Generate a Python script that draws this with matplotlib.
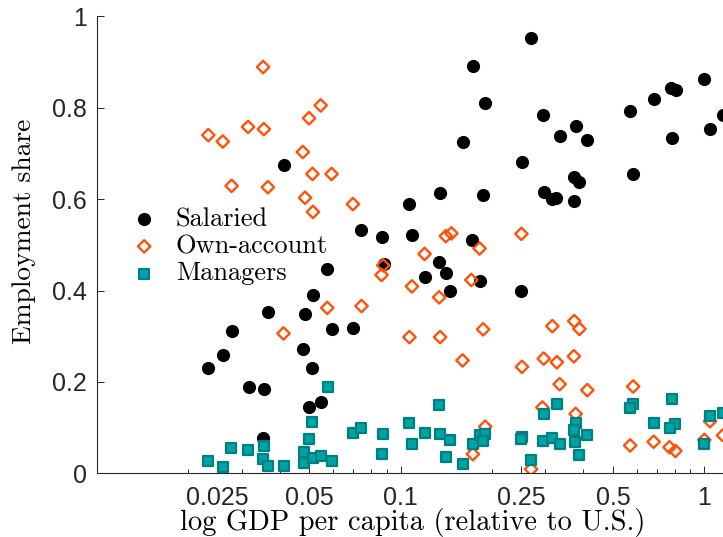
import matplotlib
matplotlib.use("Agg")
import matplotlib.pyplot as plt
from matplotlib.ticker import FixedLocator, FixedFormatter, LogLocator, NullFormatter

# GDP per capita relative to U.S. (log axis) and employment shares
sal_x = [0.0412, 0.269, 0.173, 0.190, 0.294, 0.160, 0.252, 0.107, 0.135, 0.187,
         0.296, 0.0739, 0.0871, 0.109, 0.172, 0.334, 0.378, 0.412, 0.570, 0.682,
         0.775, 0.805, 1.0, 1.149, 1.046, 0.783, 0.583, 0.325, 0.315, 0.371,
         0.388, 0.373, 0.120, 0.141, 0.146, 0.183, 0.250, 0.0881, 0.134, 0.0574,
         0.0515, 0.0366, 0.0485, 0.0278, 0.0593, 0.0699, 0.0260, 0.0233, 0.0477, 0.0513,
         0.0316, 0.0356, 0.0500, 0.0547, 0.0352]
sal_y = [0.675, 0.953, 0.891, 0.810, 0.783, 0.724, 0.681, 0.589, 0.613, 0.610,
         0.616, 0.532, 0.518, 0.521, 0.511, 0.737, 0.760, 0.730, 0.793, 0.820,
         0.843, 0.839, 0.862, 0.783, 0.754, 0.734, 0.656, 0.602, 0.600, 0.648,
         0.637, 0.596, 0.429, 0.439, 0.399, 0.421, 0.398, 0.457, 0.463, 0.447,
         0.390, 0.353, 0.348, 0.312, 0.315, 0.319, 0.258, 0.231, 0.271, 0.230,
         0.188, 0.185, 0.146, 0.155, 0.077]

own_x = [0.0353, 0.0546, 0.0500, 0.0315, 0.0355, 0.0233, 0.0260, 0.0477, 0.0513, 0.0593,
         0.0278, 0.0366, 0.0485, 0.0515, 0.0697, 0.141, 0.147, 0.250, 0.120, 0.182,
         0.0877, 0.0866, 0.109, 0.134, 0.171, 0.0744, 0.107, 0.135, 0.187, 0.160,
         0.251, 0.296, 0.316, 0.373, 0.388, 0.327, 0.372, 0.334, 0.412, 0.583,
         0.293, 0.377, 0.190, 0.173, 0.269, 0.570, 0.681, 0.768, 0.803, 1.0,
         1.044, 1.152, 0.0574, 0.0412]
own_y = [0.889, 0.805, 0.777, 0.758, 0.753, 0.740, 0.726, 0.703, 0.655, 0.655,
         0.629, 0.626, 0.603, 0.572, 0.589, 0.519, 0.525, 0.524, 0.480, 0.492,
         0.455, 0.434, 0.409, 0.385, 0.423, 0.366, 0.298, 0.298, 0.315, 0.247,
         0.233, 0.251, 0.322, 0.333, 0.316, 0.243, 0.256, 0.195, 0.182, 0.190,
         0.144, 0.130, 0.102, 0.042, 0.009, 0.061, 0.069, 0.057, 0.049, 0.073,
         0.114, 0.083, 0.362, 0.306]

man_x = [0.0578, 0.0513, 0.0501, 0.0699, 0.0739, 0.0356, 0.0277, 0.0315, 0.0233, 0.0260,
         0.0352, 0.0367, 0.0413, 0.0482, 0.0480, 0.0517, 0.0549, 0.0596, 0.0877, 0.0868,
         0.107, 0.109, 0.120, 0.134, 0.135, 0.146, 0.141, 0.160, 0.173, 0.182,
         0.190, 0.187, 0.251, 0.250, 0.269, 0.296, 0.294, 0.327, 0.316, 0.334,
         0.378, 0.371, 0.374, 0.412, 0.386, 0.583, 0.570, 0.682, 0.783, 0.801,
         0.771, 1.046, 1.152, 0.998]
man_y = [0.188, 0.112, 0.074, 0.089, 0.099, 0.060, 0.055, 0.050, 0.026, 0.013,
         0.031, 0.016, 0.016, 0.046, 0.023, 0.034, 0.037, 0.026, 0.086, 0.042,
         0.111, 0.065, 0.089, 0.149, 0.085, 0.073, 0.035, 0.021, 0.064, 0.084,
         0.087, 0.071, 0.080, 0.074, 0.029, 0.130, 0.071, 0.152, 0.077, 0.064,
         0.109, 0.095, 0.069, 0.084, 0.041, 0.152, 0.142, 0.109, 0.162, 0.107,
         0.099, 0.125, 0.131, 0.064]

x_ticks = [0.025, 0.05, 0.1, 0.25, 0.5, 1]
x_ticklabels = ["0.025", "0.05", "0.1", "0.25", "0.5", "1"]
y_ticks = [0, 0.2, 0.4, 0.6, 0.8, 1]
y_ticklabels = ["0", "0.2", "0.4", "0.6", "0.8", "1"]

SERIF = "cmr10"
SANS = "Liberation Sans"


def main():
    fig = plt.figure(figsize=(7.23, 5.37), dpi=100)
    x_right = 1.2
    # left edge and bottom in pixels, axis scale ~304 px per decade
    left_px, bottom_px, top_px = 96.7, 473.3, 16.3
    right_px = 704.3 + 304.3 * 0.0792  # log10(1.2)
    ax_w = right_px - left_px
    ax = fig.add_axes([left_px / 723, (537 - bottom_px) / 537,
                       ax_w / 723, (bottom_px - top_px) / 537])

    ax.scatter(sal_x, sal_y, s=90, marker="o", color="black", linewidths=0,
               label="Salaried", zorder=2)
    ax.scatter(own_x, own_y, s=40, marker="D", facecolors="none",
               edgecolors="#FF5208", linewidths=1.7, label="Own-account", zorder=3)
    ax.scatter(man_x, man_y, s=52, marker="s", facecolors="#00A3A3",
               edgecolors="#007F80", linewidths=1.6, label="Managers", zorder=4)

    ax.set_xscale("log")
    ax.set_xlim(0.01, x_right)
    ax.set_ylim(0, 1)

    ax.xaxis.set_major_locator(FixedLocator(x_ticks))
    ax.xaxis.set_major_formatter(FixedFormatter(x_ticklabels))
    ax.xaxis.set_minor_locator(LogLocator(base=10, subs=range(2, 10)))
    ax.xaxis.set_minor_formatter(NullFormatter())
    ax.set_yticks(y_ticks)
    ax.set_yticklabels(y_ticklabels)

    ax.tick_params(which="both", direction="in", width=0.7, colors="#262626",
                   labelsize=18)
    ax.tick_params(which="major", length=5)
    ax.tick_params(which="minor", length=3)
    ax.tick_params(axis="x", pad=9)
    ax.tick_params(axis="y", pad=7)
    for lab in ax.get_xticklabels() + ax.get_yticklabels():
        lab.set_fontfamily(SANS)

    for side in ("top", "right"):
        ax.spines[side].set_visible(False)
    for side in ("left", "bottom"):
        ax.spines[side].set_linewidth(0.8)
        ax.spines[side].set_color("#262626")

    ax.set_xlabel("log GDP per capita (relative to U.S.)", fontfamily=SERIF,
                  fontsize=20.5, labelpad=-1.5)
    ax.set_ylabel("Employment share", fontfamily=SERIF, fontsize=19.8)
    ax.yaxis.set_label_coords((36 - left_px) / ax_w, (bottom_px - 231) / 457)

    ax.legend(loc="upper left", bbox_to_anchor=(0.025, 0.605), frameon=False,
              prop={"family": SERIF, "size": 19}, handletextpad=0.4,
              labelspacing=0.13, borderaxespad=0, handlelength=1.6)

    fig.savefig("out.png", dpi=100)


if __name__ == "__main__":
    main()
